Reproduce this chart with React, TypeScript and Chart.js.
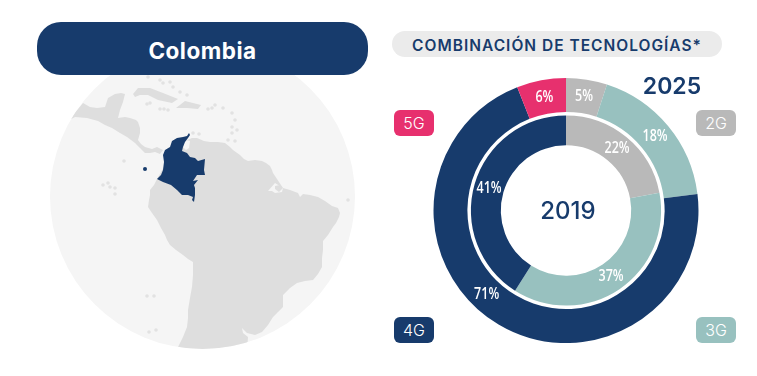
import React, { useEffect, useRef } from "react";
import { Chart, registerables } from "chart.js";

Chart.register(...registerables);

const technologies = ["2G", "3G", "4G", "5G"];
const share2025 = [5, 18, 71, 6];
const share2019 = [22, 37, 41, 0];
const colors = ["#b9b9b9", "#98c1bf", "#173b6c", "#e7306e"];
const NAVY = "#173b6c";
const FONT = "Inter, 'Noto Sans', sans-serif";

// map outline geometry (decorative backdrop)
const southAmerica = "187,140 192,138 197,138 204,141 210,142 218,142 225,143 230,147 233,150 240,155 244,159 248,161 255,160 262,161 266,163 270,166 272,170 273,173 277,179 283,188 290,190 298,193 300,197 303,194 310,195 318,197 325,201 332,206 338,208 340,213 339,217 336,223 333,227 328,235 323,241 323,250 322,258 322,267 318,274 313,280 305,281 297,283 290,288 283,295 283,301 283,307 278,312 273,317 268,325 262,332 255,335 247,333 242,328 243,333 248,337 247,350 178,350 178,347 183,337 187,327 188,318 188,310 190,298 192,287 193,275 193,262 188,259 183,255 176,250 170,245 167,240 165,235 161,228 157,220 152,213 148,207 149,200 150,195 150,190 154,185 157,179 165,165 175,150";
const centralAmerica = "60,125 73,115 83,103 90,107 97,108 105,107 108,98 115,94 121,93 125,94 124,98 123,102 120,110 118,118 125,117 130,118 136,120 138,122 140,128 140,133 138,140 141,144 145,147 152,149 157,147 163,150 160,154 155,152 150,153 145,153 140,148 135,143 127,137 120,133 112,128 105,125 98,121 87,118 75,117";
const cuba = "133,94 138,88 150,88 163,93 178,99 172,103 158,100 148,95 140,95 135,97";
const hispaniola = "176,108 185,101 201,105 198,109 187,108";
const colombia = "189,133 187,136 183,137 177,138 172,141 170,147 165,150 163,155 164,162 163,170 161,175 157,179 163,182 171,185 177,190 182,195 188,195 193,197 192,200 194,202 195,195 195,188 194,185 198,180 193,181 197,175 205,175 204,170 205,159 198,161 195,158 190,157 187,153 182,151 183,147 185,142 188,138 190,135";
const gulf = "185,140 190,141 189,148 186,150 183,147";
const amazonMouth = "268,191 275,183 283,188 282,192 275,193 272,191";
const marajo = "275,186 280,185 283,188 279,192 275,189";
const islets = [
  [148, 77], [160, 80], [163, 83], [170, 82], [173, 87], [180, 92], [187, 95],
  [215, 105], [223, 108], [232, 113], [235, 120], [232, 127], [232, 133], [228, 140], [235, 141], [237, 130],
  [193, 133], [199, 134], [147, 104], [150, 103], [164, 109], [160, 109], [168, 110], [208, 109], [212, 108],
  [103, 185], [110, 187], [115, 188], [108, 183], [115, 194], [124, 161], [348, 200],
  [147, 296], [154, 296], [149, 332], [156, 330],
];

const legendTags = [
  { label: "5G", color: colors[3], left: 394, top: 110 },
  { label: "2G", color: colors[0], left: 696, top: 110 },
  { label: "4G", color: colors[2], left: 394, top: 317 },
  { label: "3G", color: colors[1], left: 696, top: 317 },
];

const abs = (style: React.CSSProperties): React.CSSProperties => ({
  position: "absolute",
  display: "flex",
  alignItems: "center",
  justifyContent: "center",
  fontFamily: FONT,
  whiteSpace: "nowrap",
  ...style,
});

const sliceLabels = {
  id: "sliceLabels",
  afterDatasetsDraw(chart: any) {
    const ctx = chart.ctx;
    ctx.fillStyle = "#ffffff";
    ctx.textAlign = "center";
    ctx.textBaseline = "middle";
    ctx.font = "600 16px 'Open Sans', 'Noto Sans', sans-serif";
    [0, 2].forEach((di) => {
      const values = chart.data.datasets[di].data;
      chart.getDatasetMeta(di).data.forEach((arc: any, i: number) => {
        if (!values[i]) return;
        const { x, y, startAngle, endAngle, innerRadius, outerRadius } = arc.getProps(
          ["x", "y", "startAngle", "endAngle", "innerRadius", "outerRadius"],
          true
        );
        // the long 4G arc of the outer ring carries its label a little past its middle
        const t = di === 0 && values[i] > 50 ? 0.55 : 0.5;
        const a = startAngle + (endAngle - startAngle) * t;
        const r = (innerRadius + outerRadius) / 2;
        ctx.save();
        ctx.translate(x + Math.cos(a) * r, y + Math.sin(a) * r);
        ctx.scale(0.78, 1);
        ctx.fillText(values[i] + "%", 0, 0);
        ctx.restore();
      });
    });
  },
};

export default function App() {
  const ref = useRef<HTMLCanvasElement>(null);
  useEffect(() => {
    document.body.style.margin = "0";
    const chart = new Chart(ref.current!, {
      type: "doughnut",
      data: {
        labels: technologies,
        datasets: [
          { label: "2025", data: share2025, backgroundColor: colors, borderWidth: 0, weight: 34 },
          { label: "", data: [1], backgroundColor: ["rgba(0,0,0,0)"], borderWidth: 0, weight: 3.5 },
          { label: "2019", data: share2019, backgroundColor: colors, borderWidth: 0, weight: 30 },
        ],
      },
      options: {
        responsive: false,
        animation: false,
        cutout: "49.2%",
        layout: { padding: 0 },
        plugins: { legend: { display: false }, tooltip: { enabled: false } },
      },
      plugins: [sliceLabels],
    });
    return () => chart.destroy();
  }, []);

  return (
    <div style={{ position: "relative", width: 757, height: 376, background: "#fff", overflow: "hidden" }}>
      <svg width={757} height={376} style={{ position: "absolute", left: 0, top: 0 }}>
        <defs>
          <clipPath id="globe">
            <circle cx={202.5} cy={196.5} r={152.5} />
          </clipPath>
        </defs>
        <circle cx={202.5} cy={196.5} r={152.5} fill="#f5f5f5" />
        <g clipPath="url(#globe)" fill="#dedede">
          <polygon points={southAmerica} />
          <polygon points={centralAmerica} />
          <polygon points={cuba} />
          <polygon points={hispaniola} />
          <polygon points={gulf} fill="#f5f5f5" />
          <polygon points={amazonMouth} fill="#f5f5f5" />
          <polygon points={marajo} />
          {islets.map(([x, y], i) => (
            <circle key={i} cx={x} cy={y} r={1.8} fill="#e2e2e2" />
          ))}
          <polygon points={colombia} fill={NAVY} />
          <circle cx={145} cy={169} r={2} fill={NAVY} />
        </g>
      </svg>
      <div style={abs({ left: 37, top: 22, width: 331, height: 53, paddingTop: 3, boxSizing: "border-box", borderRadius: 24, background: NAVY, color: "#fff", fontWeight: 700, fontSize: 22.5, letterSpacing: 0.5 })}>
        Colombia
      </div>
      <div style={abs({ left: 392, top: 31, width: 330, height: 26, paddingTop: 2, boxSizing: "border-box", borderRadius: 13, background: "#ebebeb", color: NAVY, fontWeight: 600, fontSize: 15.5, letterSpacing: 1 })}>
        COMBINACIÓN DE TECNOLOGÍAS*
      </div>
      <canvas ref={ref} width={266} height={265} style={{ position: "absolute", left: 433, top: 78 }} />
      <div style={abs({ left: 622, top: 70, width: 100, height: 32, color: NAVY, fontWeight: 600, fontSize: 23 })}>2025</div>
      <div style={abs({ left: 518, top: 194, width: 100, height: 32, color: NAVY, fontWeight: 500, fontSize: 24 })}>2019</div>
      {legendTags.map((t) => (
        <div key={t.label} style={abs({ left: t.left, top: t.top, width: 40, height: 26, borderRadius: 6, background: t.color, color: "#fff", fontSize: 16, fontWeight: 300 })}>
          {t.label}
        </div>
      ))}
    </div>
  );
}
